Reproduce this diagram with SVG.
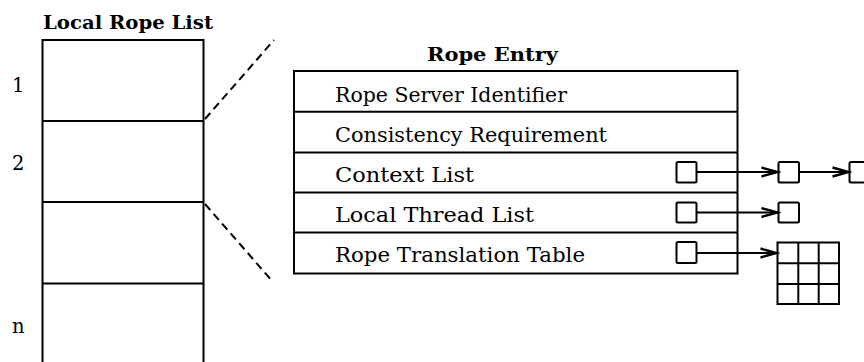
<svg xmlns="http://www.w3.org/2000/svg" width="864" height="362" viewBox="0 0 864 362">
<style>
  .ln { stroke:#000; stroke-width:2; fill:none; }
  .box { stroke:#000; stroke-width:2; fill:#fff; }
  .sq { stroke:#000; stroke-width:2; fill:#fff; }
  .dash { stroke:#000; stroke-width:2; fill:none; stroke-dasharray:8 5; }
  .t { font-family:"DejaVu Serif","Liberation Serif",serif; font-size:19.5px; fill:#000; }
  .b { font-family:"DejaVu Serif","Liberation Serif",serif; font-size:19px; font-weight:bold; fill:#000; }
  .arr { stroke:#000; stroke-width:2; fill:none; marker-end:url(#ah); }
</style>
<defs>
  <marker id="ah" markerUnits="userSpaceOnUse" markerWidth="20" markerHeight="14" viewBox="-17 -7 20 14" refX="0" refY="0" orient="auto">
    <path d="M-16,-4.5 L0,0 L-16,4.5" fill="none" stroke="#000" stroke-width="2.4" stroke-linejoin="miter"/>
  </marker>
</defs>

<g id="local-rope-list">
  <text class="b" x="43" y="28.5" textLength="170" lengthAdjust="spacingAndGlyphs">Local Rope List</text>
  <path class="ln" d="M42.5,363 V40 H203.5 V363"/>
  <line class="ln" x1="42.5" y1="121" x2="203.5" y2="121"/>
  <line class="ln" x1="42.5" y1="202" x2="203.5" y2="202"/>
  <line class="ln" x1="42.5" y1="283.5" x2="203.5" y2="283.5"/>
  <text class="t" x="12" y="92">1</text>
  <text class="t" x="12" y="170">2</text>
  <text class="t" x="12" y="333">n</text>
</g>

<g id="zoom-lines">
  <line class="dash" x1="205" y1="119" x2="274" y2="40"/>
  <line class="dash" x1="205" y1="204" x2="273" y2="282"/>
</g>

<g id="rope-entry">
  <text class="b" x="427" y="60.5" textLength="131" lengthAdjust="spacingAndGlyphs">Rope Entry</text>
  <rect class="box" x="294" y="71" width="443.5" height="202.5"/>
  <line class="ln" x1="294" y1="111.7" x2="737.5" y2="111.7"/>
  <line class="ln" x1="294" y1="152.5" x2="737.5" y2="152.5"/>
  <line class="ln" x1="294" y1="192.5" x2="737.5" y2="192.5"/>
  <line class="ln" x1="294" y1="232.5" x2="737.5" y2="232.5"/>
  <text class="t" x="335" y="101.7" textLength="232" lengthAdjust="spacingAndGlyphs">Rope Server Identifier</text>
  <text class="t" x="335" y="141.7" textLength="272" lengthAdjust="spacingAndGlyphs">Consistency Requirement</text>
  <text class="t" x="335" y="181.7" textLength="139" lengthAdjust="spacingAndGlyphs">Context List</text>
  <text class="t" x="335" y="221.7" textLength="199" lengthAdjust="spacingAndGlyphs">Local Thread List</text>
  <text class="t" x="335" y="261.7" textLength="250" lengthAdjust="spacingAndGlyphs">Rope Translation Table</text>
  <rect class="sq" x="676.5" y="162" width="20" height="20.5" rx="1.5"/>
  <rect class="sq" x="676.5" y="202.5" width="20" height="20" rx="1.5"/>
  <rect class="sq" x="676.5" y="242" width="20" height="21" rx="1.5"/>
</g>

<g id="context-node-1">
  <rect class="sq" x="778.5" y="162" width="20.5" height="20.5" rx="1.5"/>
</g>
<g id="context-node-2">
  <rect class="sq" x="849.5" y="162" width="21" height="20.5" rx="1.5"/>
</g>
<g id="thread-node-1">
  <rect class="sq" x="778.5" y="202.5" width="20.5" height="20" rx="1.5"/>
</g>
<g id="translation-table">
  <rect class="sq" x="777.5" y="242.5" width="61.5" height="61.5"/>
  <line class="ln" x1="798.3" y1="242.5" x2="798.3" y2="304"/>
  <line class="ln" x1="818.7" y1="242.5" x2="818.7" y2="304"/>
  <line class="ln" x1="777.5" y1="263.3" x2="839" y2="263.3"/>
  <line class="ln" x1="777.5" y1="284" x2="839" y2="284"/>
</g>

<g id="connectors">
  <line class="arr" x1="696.5" y1="172" x2="777.5" y2="172"/>
  <line class="arr" x1="799" y1="172" x2="848.5" y2="172"/>
  <line class="arr" x1="696.5" y1="212.5" x2="777.5" y2="212.5"/>
  <line class="arr" x1="696.5" y1="253" x2="776.5" y2="253"/>
</g>
</svg>
